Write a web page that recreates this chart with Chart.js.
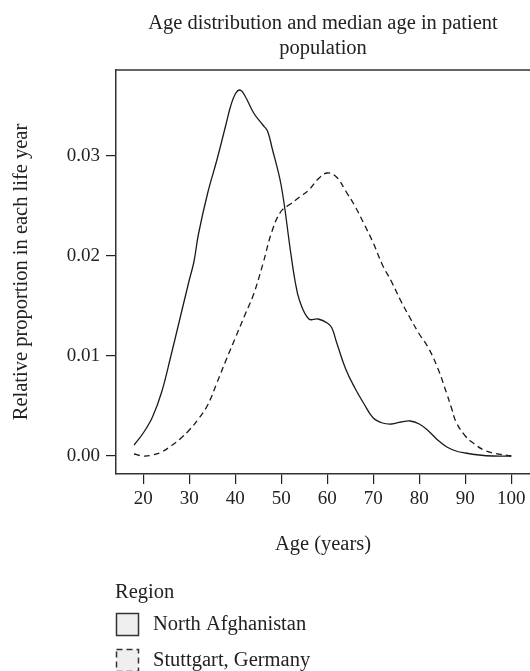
<!DOCTYPE html>
<html><head><meta charset="utf-8">
<script src="https://cdn.jsdelivr.net/npm/chart.js@4"></script>
<style>html,body{margin:0;padding:0;background:#fff;overflow:hidden}</style>
</head><body>
<canvas id="c" width="530" height="671"></canvas>
<script>
const titleLines = ['Age distribution and median age in patient', 'population'];
const xTitle = 'Age (years)';
const yTitle = 'Relative proportion in each life year';
const legendTitle = 'Region';
const seriesLabels = ['North Afghanistan', 'Stuttgart, Germany'];

const agesNorth = [18,20,22,24,26,28,30,31,32,34,36,38,39,40,41,42,44,46,47,48,50,52,53,54,56,58,60,61,62,64,66,68,70,72,74,76,78,80,82,84,86,88,90,93,96,100];
const northAfghanistan = [0.0011,0.0023,0.0039,0.0064,0.0100,0.0138,0.0176,0.0194,0.0222,0.0263,0.0296,0.0332,0.0350,0.0362,0.0366,0.0361,0.0343,0.0331,0.0325,0.0308,0.0270,0.0205,0.0175,0.0155,0.0137,0.0137,0.0133,0.0128,0.0114,0.0087,0.0068,0.0052,0.0038,0.0033,0.0032,0.0034,0.0035,0.0032,0.0025,0.0016,0.0009,0.0005,0.0003,0.0001,0.0000,0.0000];

const agesStuttgart = [18,20,22,24,26,28,30,32,34,36,38,40,42,44,46,48,50,52,54,56,58,60,62,64,66,68,70,72,74,76,78,80,82,84,86,87,88,90,92,94,96,100];
const stuttgart = [0.0002,0.0000,0.0001,0.0004,0.0010,0.0017,0.0026,0.0037,0.0051,0.0073,0.0096,0.0118,0.0140,0.0162,0.0192,0.0225,0.0245,0.0252,0.0259,0.0266,0.0277,0.0283,0.0279,0.0265,0.0250,0.0232,0.0213,0.0191,0.0174,0.0155,0.0138,0.0122,0.0108,0.0088,0.0062,0.0048,0.0034,0.0020,0.0012,0.0006,0.0003,0.0000];

const xTicks = [20,30,40,50,60,70,80,90,100];
const yTicks = [0.00,0.01,0.02,0.03];

const FONT = "'Liberation Serif', 'Times New Roman', serif";
const TEXT_SIZE = 20.5;
const TICK_SIZE = 19;
const INK = '#1a1a1a';
Chart.defaults.font.family = FONT;
Chart.defaults.font.size = TICK_SIZE;
Chart.defaults.color = '#222';

const toPoints = (xs, ys) => xs.map((x, i) => ({x, y: ys[i]}));

const framePlugin = {
  id: 'frameLegend',
  afterDraw(chart) {
    const {ctx, chartArea: a} = chart;
    ctx.save();
    ctx.strokeStyle = '#333';
    ctx.lineWidth = 1.5;
    ctx.beginPath();
    ctx.moveTo(a.left, a.top);
    ctx.lineTo(chart.width, a.top);
    ctx.stroke();

    // legend
    ctx.fillStyle = '#222';
    ctx.font = TEXT_SIZE + 'px ' + FONT;
    ctx.textBaseline = 'middle';
    ctx.textAlign = 'left';
    ctx.fillText(legendTitle, 115, 593);
    const items = [{y: 613.5, dash: []}, {y: 649.5, dash: [6, 4]}];
    items.forEach((it, i) => {
      ctx.fillStyle = '#efefef';
      ctx.fillRect(116.5, it.y, 22, 22);
      ctx.setLineDash(it.dash);
      ctx.strokeStyle = '#333';
      ctx.lineWidth = 1.5;
      ctx.strokeRect(116.5, it.y, 22, 22);
      ctx.setLineDash([]);
      ctx.fillStyle = '#222';
      ctx.fillText(seriesLabels[i], 153, it.y + 11);
    });
    ctx.restore();
  }
};

new Chart(document.getElementById('c'), {
  type: 'line',
  data: {
    datasets: [
      {label: seriesLabels[0], data: toPoints(agesNorth, northAfghanistan), borderColor: INK, borderWidth: 1.3, pointRadius: 0, fill: false, tension: 0.4},
      {label: seriesLabels[1], data: toPoints(agesStuttgart, stuttgart), borderColor: INK, borderWidth: 1.3, borderDash: [6, 4], pointRadius: 0, fill: false, tension: 0.4}
    ]
  },
  options: {
    responsive: false,
    animation: false,
    devicePixelRatio: 1,
    layout: {padding: {top: 0, left: 0, right: 0, bottom: 107}},
    plugins: {
      legend: {display: false},
      tooltip: {enabled: false},
      title: {display: true, text: titleLines, fullSize: false, color: '#222', font: {size: TEXT_SIZE, weight: 'normal', lineHeight: 1.2}, padding: {top: 11.5, bottom: 9.3}}
    },
    scales: {
      x: {
        type: 'linear', min: 14.07, max: 104.07,
        afterBuildTicks: s => { s.ticks = xTicks.map(v => ({value: v})); },
        afterFit: s => { s.height = 90; },
        grid: {display: true, drawOnChartArea: false, drawTicks: true, tickLength: 10, tickColor: '#222', lineWidth: 1.2},
        border: {display: true, color: '#333', width: 1.5},
        ticks: {padding: 4, color: '#222', maxRotation: 0, autoSkip: false},
        title: {display: true, text: xTitle, color: '#222', font: {size: TEXT_SIZE}, padding: {top: 0, bottom: 7}}
      },
      y: {
        type: 'linear', min: -0.0018, max: 0.0386,
        afterBuildTicks: s => { s.ticks = yTicks.map(v => ({value: v})); },
        afterFit: s => { s.width = 116; },
        grid: {display: true, drawOnChartArea: false, drawTicks: true, tickLength: 10, tickColor: '#222', lineWidth: 1.2},
        border: {display: true, color: '#333', width: 1.5},
        ticks: {padding: 6, color: '#222', callback: v => v.toFixed(2)},
        title: {display: true, text: yTitle, color: '#222', font: {size: TEXT_SIZE}, padding: {top: 9.5, bottom: 0}}
      }
    }
  },
  plugins: [framePlugin]
});
</script>
</body></html>
